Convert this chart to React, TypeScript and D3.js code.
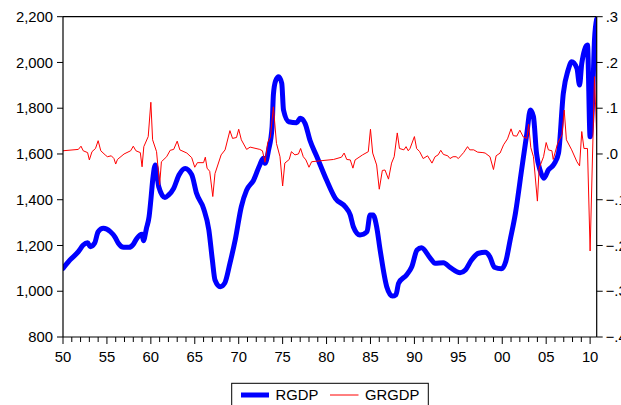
import React from 'react';
import * as d3 from 'd3';

// RGDP (left axis) as [year, value]
const rgdpYears = [
  1950.0, 1950.75, 1951.75, 1952.3, 1952.8, 1953.1, 1953.6, 1954.0, 1954.6, 1955.4, 1955.9, 1956.3,
  1956.9, 1957.5, 1958.0, 1958.4, 1959.0, 1959.15, 1959.5, 1959.8, 1960.0, 1960.25, 1960.5, 1960.9,
  1961.6, 1962.0, 1962.6, 1963.2, 1963.9, 1964.65, 1965.2, 1966.0, 1966.6, 1967.0, 1967.3, 1967.9,
  1968.4, 1969.0, 1969.6, 1970.3, 1970.9, 1971.7, 1972.4, 1972.8, 1973.0, 1973.4, 1973.8, 1973.95,
  1974.2, 1974.55, 1974.9, 1975.1, 1975.7, 1976.6, 1977.0, 1977.55, 1978.1, 1978.9, 1980.0, 1981.0,
  1982.1, 1982.7, 1983.05, 1983.8, 1984.6, 1984.95, 1985.3, 1985.7, 1986.1, 1986.85, 1987.5, 1987.9,
  1988.2, 1989.1, 1989.7, 1990.3, 1990.8, 1991.8, 1992.35, 1993.3, 1994.1, 1995.2, 1995.8, 1996.5,
  1997.3, 1998.05, 1998.6, 1999.1, 1999.9, 2000.4, 2000.9, 2001.5, 2002.2, 2002.8, 2003.2, 2003.55,
  2003.9, 2004.3, 2004.75, 2005.25, 2005.9, 2006.4, 2006.95, 2007.5, 2007.9, 2008.5, 2008.8, 2009.05,
  2009.7, 2010.0, 2010.25, 2010.5, 2010.75,
];
const rgdpValues = [
  1100, 1135, 1173, 1202, 1212, 1195, 1210, 1260, 1275, 1260, 1238, 1210,
  1192, 1192, 1205, 1231, 1249, 1221, 1275, 1326, 1399, 1500, 1552, 1457,
  1410, 1420, 1450, 1508, 1537, 1510, 1428, 1362, 1268, 1137, 1049, 1020,
  1035, 1122, 1224, 1370, 1442, 1486, 1552, 1581, 1559, 1617, 1719, 1860,
  1920, 1938, 1909, 1792, 1741, 1737, 1756, 1734, 1661, 1588, 1486, 1406,
  1370, 1333, 1282, 1246, 1260, 1333, 1333, 1282, 1180, 1020, 979, 985,
  1035, 1071, 1107, 1180, 1190, 1145, 1122, 1125, 1103, 1081, 1093, 1137,
  1166, 1170, 1150, 1105, 1098, 1130, 1224, 1341, 1530, 1690, 1792, 1763,
  1603, 1530, 1494, 1530, 1556, 1603, 1865, 1967, 2003, 1974, 1901, 1996,
  2076, 1675, 1800, 2100, 2190,
];

// GRGDP (right axis)
const grYears = [
  1950.0, 1951.75, 1952.05, 1952.3, 1952.8, 1953.0, 1953.3, 1953.7, 1954.0, 1954.3, 1954.8, 1955.05,
  1955.5, 1955.8, 1956.0, 1956.2, 1956.95, 1957.7, 1958.0, 1958.3, 1958.8, 1959.0, 1959.2, 1959.7,
  1960.0, 1960.2, 1960.65, 1961.0, 1961.2, 1961.8, 1962.2, 1962.6, 1963.0, 1963.3, 1964.1, 1964.65,
  1965.0, 1965.3, 1966.0, 1966.2, 1966.4, 1966.7, 1967.05, 1967.3, 1968.0, 1968.45, 1969.0, 1969.3,
  1969.75, 1970.0, 1970.3, 1970.9, 1971.3, 1972.4, 1972.7, 1973.0, 1973.3, 1973.6, 1973.95, 1974.3,
  1974.7, 1975.0, 1975.25, 1975.75, 1976.0, 1976.4, 1976.8, 1977.05, 1977.35, 1977.65, 1978.0, 1978.3,
  1979.25, 1980.8, 1981.7, 1982.0, 1982.3, 1982.7, 1983.0, 1983.25, 1984.1, 1984.75, 1985.0, 1985.25,
  1985.7, 1986.0, 1986.35, 1986.65, 1987.05, 1987.4, 1987.7, 1988.05, 1988.3, 1988.8, 1989.05, 1989.3,
  1989.5, 1990.0, 1990.25, 1990.6, 1991.0, 1991.5, 1992.0, 1992.35, 1992.7, 1993.0, 1993.3, 1993.8,
  1994.05, 1994.4, 1994.75, 1995.0, 1995.6, 1996.05, 1996.3, 1996.75, 1997.2, 1997.8, 1998.05, 1998.6,
  1999.0, 1999.3, 1999.75, 2000.15, 2000.6, 2001.0, 2001.25, 2001.65, 2002.0, 2002.4, 2002.8, 2003.0,
  2003.25, 2003.55, 2004.0, 2004.2, 2004.7, 2005.0, 2005.25, 2005.65, 2005.8, 2006.3, 2006.8, 2007.05,
  2007.3, 2007.9, 2008.5, 2008.8, 2009.05, 2009.3, 2009.7, 2010.0, 2010.5, 2010.75,
];
const grValues = [
  0.007, 0.010, 0.017, 0.007, 0.003, -0.013, 0.005, 0.012, 0.029, 0.007, -0.002, -0.006,
  -0.004, -0.010, -0.022, -0.012, 0.000, 0.007, 0.017, 0.007, 0.003, -0.028, 0.016, 0.038,
  0.113, 0.031, 0.005, -0.068, -0.017, -0.006, 0.008, 0.010, 0.028, 0.009, 0.002, -0.008,
  -0.029, -0.019, -0.019, -0.007, -0.031, -0.038, -0.093, -0.043, -0.002, 0.009, 0.051, 0.034,
  0.036, 0.054, 0.031, 0.010, 0.015, 0.010, 0.007, -0.018, 0.025, 0.036, 0.103, 0.023,
  -0.006, -0.070, -0.020, -0.012, 0.005, -0.002, 0.000, 0.012, -0.006, -0.013, -0.029, -0.017,
  -0.015, -0.012, -0.007, 0.002, -0.012, -0.013, -0.031, -0.013, -0.002, 0.005, 0.054, 0.002,
  -0.024, -0.077, -0.036, -0.035, -0.055, -0.020, -0.006, 0.046, 0.012, 0.009, 0.016, 0.007,
  0.012, 0.038, 0.012, 0.005, -0.010, -0.004, -0.020, -0.006, -0.002, 0.008, -0.001, -0.004,
  -0.010, -0.006, -0.006, -0.010, 0.003, 0.016, 0.009, 0.009, 0.004, 0.003, 0.002, -0.006,
  -0.034, -0.004, 0.002, 0.020, 0.033, 0.055, 0.040, 0.039, 0.052, 0.037, 0.034, 0.065,
  0.014, -0.006, -0.103, -0.031, -0.006, 0.025, 0.009, 0.007, -0.012, 0.023, 0.042, 0.096,
  0.031, 0.009, -0.017, -0.026, 0.049, 0.012, 0.012, -0.212, 0.169, 0.040,
];

const leftTicks = [800, 1000, 1200, 1400, 1600, 1800, 2000, 2200];
const rightTicks = [-0.4, -0.3, -0.2, -0.1, 0, 0.1, 0.2, 0.3];
const yearLabels = ['50', '55', '60', '65', '70', '75', '80', '85', '90', '95', '00', '05', '10'];
const seriesNames = ['RGDP', 'GRGDP'];

const W = 621;
const H = 405;
const L = 63;
const R = 596.7;
const T = 16.7;
const B = 337;
const FONT = '"Liberation Sans", Arial, sans-serif';
const FS = 14.8;

const fmtLeft = d3.format(',');
// EViews style: ".3", "-.1"
const fmtRight = (v: number) => d3.format('.1f')(v).replace('0.', '.');

const App = () => {
  const x = d3.scaleLinear().domain([1950, 2010.75]).range([L, R]);
  const yL = d3.scaleLinear().domain([800, 2200]).range([B, T]);
  const yR = d3.scaleLinear().domain([-0.4, 0.3]).range([B, T]);

  const rgdpLine = d3
    .line<number>()
    .x((d, i) => x(rgdpYears[i]))
    .y((d) => yL(d))
    .curve(d3.curveMonotoneX);
  const grLine = d3
    .line<number>()
    .x((d, i) => x(grYears[i]))
    .y((d) => yR(d));

  const minorYears = d3.range(1950, 2011, 1);

  return (
    <svg
      width={W}
      height={H}
      style={{ position: 'absolute', left: 0, top: 0, background: '#fff' }}
      fontFamily={FONT}
    >
      <defs>
        <clipPath id="plot">
          <rect x={L} y={T - 3} width={R - L} height={B - T + 3} />
        </clipPath>
      </defs>

      <path
        d={rgdpLine(rgdpValues) || ''}
        fill="none"
        stroke="#0000ff"
        strokeWidth={5}
        strokeLinejoin="round"
        strokeLinecap="round"
        clipPath="url(#plot)"
      />
      <path d={grLine(grValues) || ''} fill="none" stroke="#ff0000" strokeWidth={1} clipPath="url(#plot)" />

      {/* frame */}
      <line x1={L} x2={R} y1={T} y2={T} stroke="#000" strokeWidth={1.2} />
      <line x1={L} x2={L} y1={T} y2={B} stroke="#000" strokeWidth={1.2} />
      <line x1={R} x2={R} y1={T} y2={B} stroke="#000" strokeWidth={1.2} />
      <line x1={L} x2={R} y1={B} y2={B} stroke="#000" strokeWidth={1.2} />

      {/* left axis */}
      {leftTicks.map((v) => (
        <g key={'l' + v}>
          <line x1={L - 6} x2={L} y1={yL(v)} y2={yL(v)} stroke="#000" />
          <text x={L - 10} y={yL(v)} dy="0.35em" textAnchor="end" fontSize={FS} fill="#000">
            {fmtLeft(v)}
          </text>
        </g>
      ))}

      {/* right axis (labels run off the page edge, as in the original) */}
      {rightTicks.map((v) => (
        <g key={'r' + v}>
          <line x1={R} x2={R + 6} y1={yR(v)} y2={yR(v)} stroke="#000" />
          <text x={R + 9} y={yR(v)} dy="0.35em" textAnchor="start" fontSize={FS} fill="#000">
            {fmtRight(v)}
          </text>
        </g>
      ))}

      {/* bottom axis */}
      {minorYears.map((yr) => (
        <line
          key={'t' + yr}
          x1={x(yr)}
          x2={x(yr)}
          y1={B}
          y2={B + ((yr - 1950) % 5 === 0 ? 7 : 5)}
          stroke="#000"
        />
      ))}
      {yearLabels.map((lab, i) => (
        <text key={'x' + lab} x={x(1950 + i * 5)} y={361.5} textAnchor="middle" fontSize={FS} fill="#000">
          {lab}
        </text>
      ))}

      {/* legend */}
      <rect x={231.7} y={383.3} width={196.6} height={30} fill="#fff" stroke="#000" strokeWidth={1} />
      <line x1={241} x2={269} y1={395} y2={395} stroke="#0000ff" strokeWidth={5} />
      <text x={275.5} y={400} fontSize={FS} fill="#000">
        {seriesNames[0]}
      </text>
      <line x1={330} x2={358.5} y1={395} y2={395} stroke="#ff0000" strokeWidth={1} />
      <text x={365} y={400} fontSize={FS} fill="#000">
        {seriesNames[1]}
      </text>
    </svg>
  );
};

export default App;
